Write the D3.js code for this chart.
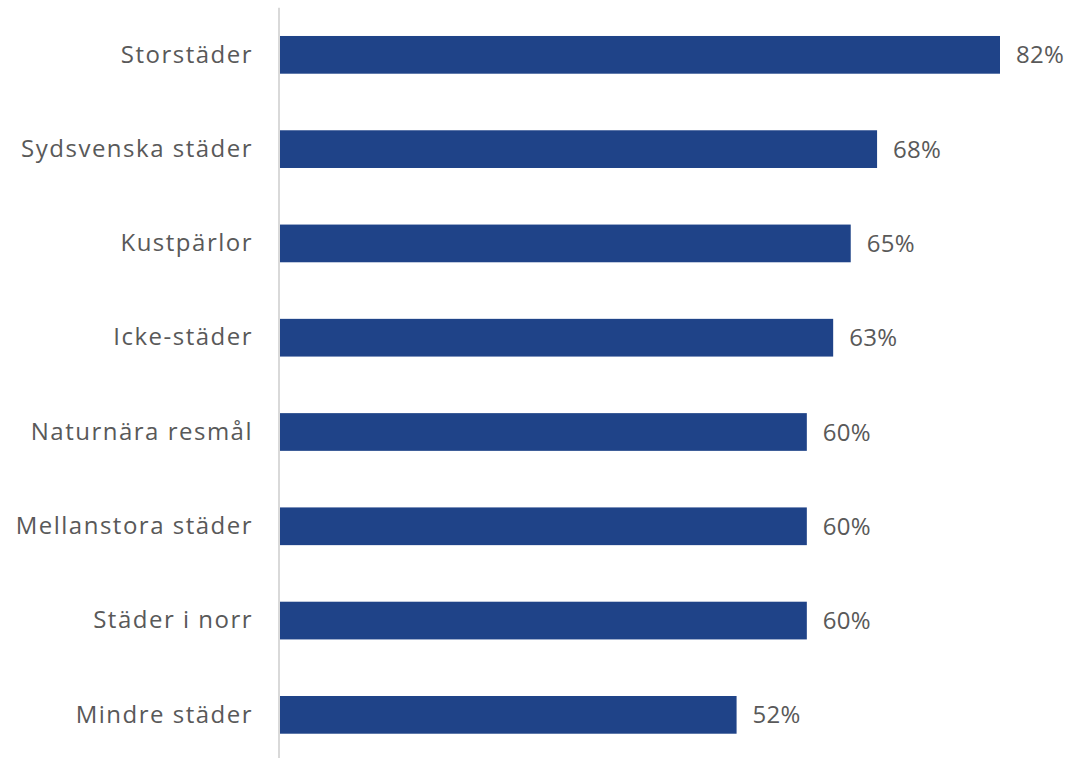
<!DOCTYPE html>
<html>
<head>
<meta charset="utf-8">
<script src="https://cdn.jsdelivr.net/npm/d3@7"></script>
<style>
  html, body { margin: 0; padding: 0; background: #fff; }
  svg { display: block; }
  text { font-family: "Open Sans", "DejaVu Sans", sans-serif; fill: #595959; }
</style>
</head>
<body>
<svg id="chart" width="1068" height="758"></svg>
<script>
// Andel per destinationstyp
const categories = ["Storstäder", "Sydsvenska städer", "Kustpärlor", "Icke-städer",
  "Naturnära resmål", "Mellanstora städer", "Städer i norr", "Mindre städer"];
const values = [82, 68, 65, 63, 60, 60, 60, 52];

const width = 1068, height = 758;
const margin = { left: 280, top: 7.7, bottom: -4 };

const svg = d3.select("#chart");

const x = d3.scaleLinear()
  .domain([0, 82])
  .range([margin.left, 1000]);

const y = d3.scaleBand()
  .domain(categories)
  .range([margin.top, height - margin.bottom])
  .paddingInner(0.6)
  .paddingOuter(0.3);

// bars
svg.append("g")
  .selectAll("rect")
  .data(categories)
  .join("rect")
  .attr("x", x(0))
  .attr("y", d => y(d))
  .attr("width", (d, i) => x(values[i]) - x(0))
  .attr("height", y.bandwidth())
  .attr("fill", "#1f4388");

// category axis
const yAxis = svg.append("g")
  .attr("transform", `translate(${x(0) - 1},0)`)
  .call(d3.axisLeft(y).tickSize(0).tickPadding(26));
yAxis.select(".domain")
  .attr("d", `M0,${margin.top}V${height - margin.bottom}`)
  .attr("stroke", "#d9d9d9")
  .attr("stroke-width", 2);
yAxis.selectAll(".tick text")
  .attr("fill", "#595959")
  .style("font-size", "24px")
  .style("letter-spacing", "1.5px");

// value labels
svg.append("g")
  .selectAll("text")
  .data(categories)
  .join("text")
  .attr("x", (d, i) => x(values[i]) + 16)
  .attr("y", d => y(d) + y.bandwidth() / 2)
  .attr("dy", "0.36em")
  .style("font-size", "24px")
  .style("letter-spacing", "0.3px")
  .text((d, i) => values[i] + "%");
</script>
</body>
</html>
